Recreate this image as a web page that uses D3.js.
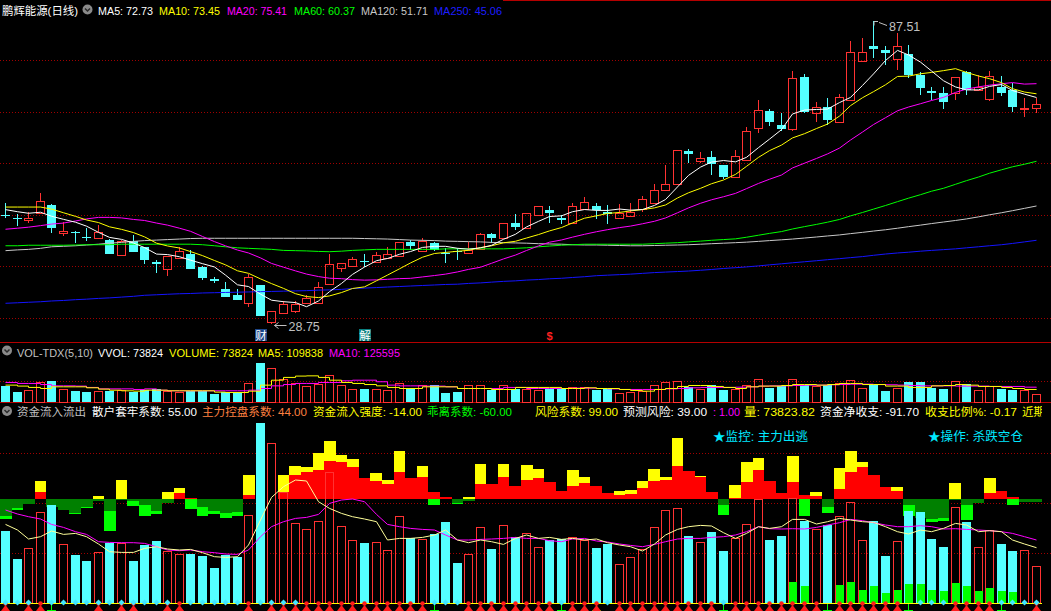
<!DOCTYPE html>
<html><head><meta charset="utf-8">
<script src="https://cdn.jsdelivr.net/npm/d3@7"></script>
<style>
html,body{margin:0;padding:0;background:#000;overflow:hidden}
svg{display:block}
text{font-family:"Liberation Sans",Arial,"Noto Sans CJK SC",sans-serif}
</style></head><body>
<svg id="c" width="1051" height="611"></svg>
<script>
// ---------------- data ----------------
const opens = [50.0,49.3,48.9,50.3,51.9,46.4,46.7,45.7,45.6,45.1,
42.3,44.9,43.8,40.85,39.4,41.7,42.4,39.8,37.56,35.7,
34.46,32.97,36.4,29.3,30.9,31.4,32.85,32.97,36.5,39.7,
40.1,41.1,40.8,41.7,42.0,44.7,43.05,44.5,42.6,42.9,
42.55,43.3,46.3,45.6,48.35,47.4,50.0,50.9,49.4,48.5,
51.1,51.7,50.6,49.3,49.8,51.1,52.2,54.9,55.9,62.4,
60.5,61.2,59.65,57.4,60.7,66.9,70.1,67.4,66.6,76.7,
69.8,70.8,67.9,72.25,79.9,82.7,81.9,80.2,81.2,77.1,
74.05,73.55,73.55,77.6,74.2,72.4,74.85,74.2,70.45,70.65];
const highs = [52.2,50.2,50.6,54.3,52.0,48.7,46.8,47.5,48.0,45.3,
45.2,46.1,43.8,41.2,42.0,43.8,43.2,40.0,38.0,37.0,
35.6,38.5,36.4,31.4,33.2,33.2,34.5,37.0,42.4,40.7,
41.9,42.4,42.85,43.7,44.7,45.2,45.5,44.8,43.5,43.5,
44.8,46.5,46.5,48.35,50.1,50.3,51.7,51.7,49.96,52.2,
53.5,52.2,51.9,52.1,52.2,53.6,55.97,59.65,62.6,62.7,
62.1,62.4,59.65,62.6,67.1,72.2,70.5,69.7,77.8,77.3,
71.9,72.7,73.5,83.6,84.2,87.51,82.7,85.2,82.9,77.75,
74.7,74.85,76.7,77.8,77.1,77.9,76.9,75.5,72.6,72.6];
const lows = [49.3,47.8,48.5,50.3,46.5,45.9,44.5,44.9,45.5,42.4,
42.3,42.8,40.5,38.8,38.1,41.6,39.5,37.4,36.8,34.1,
33.5,32.2,30.4,28.75,30.9,31.0,32.85,32.97,36.5,39.0,
39.8,39.8,40.6,41.7,42.0,43.2,43.05,42.9,40.6,41.2,
42.55,43.3,44.6,45.6,47.05,47.4,50.0,48.35,48.2,48.5,
51.1,49.1,48.2,49.3,49.8,50.6,52.2,54.9,55.9,60.1,
60.1,57.7,56.9,57.4,60.7,65.8,67.3,66.2,66.2,69.7,
68.0,67.4,67.9,72.25,79.9,80.35,79.0,78.1,76.5,73.2,
72.25,70.5,72.25,73.2,74.2,72.1,73.0,70.0,69.0,69.7];
const closes = [49.9,49.2,49.4,52.7,47.4,46.9,46.4,45.6,46.7,42.5,
45.0,42.85,41.2,40.4,42.0,42.9,39.55,37.8,37.2,34.1,
33.5,37.9,30.4,31.36,32.65,32.65,33.9,35.95,40.4,40.6,
41.4,41.0,42.15,42.5,44.7,44.05,45.0,43.2,42.5,42.8,
43.2,46.3,45.6,48.35,47.7,50.3,51.7,50.3,49.0,51.7,
52.4,50.9,50.2,50.4,50.6,53.0,54.9,55.9,62.6,61.8,
61.0,59.8,57.4,61.3,66.2,70.4,68.0,66.6,76.5,70.0,
70.96,68.4,72.9,81.5,81.6,82.1,81.4,82.7,77.1,74.65,
73.55,71.9,76.7,74.2,74.7,76.9,73.7,70.96,70.65,71.4];
const ma5 = [51.0,50.6,50.3,50.5,49.72,49.12,48.56,47.8,46.6,45.62,
45.24,44.53,43.65,42.39,42.29,41.87,41.21,40.53,39.89,38.31,
36.43,36.1,34.62,33.45,33.16,32.99,32.19,33.3,35.11,36.7,
38.45,39.87,41.11,41.53,42.35,42.88,43.68,43.89,43.89,43.51,
43.34,43.6,44.08,45.25,46.23,47.65,48.73,49.67,49.8,50.6,
51.02,50.86,50.84,51.12,50.9,51.02,51.82,52.96,55.4,57.64,
59.24,60.22,60.52,60.26,61.14,63.02,64.66,66.5,69.54,70.3,
70.41,70.49,71.75,72.75,75.07,77.3,79.9,81.86,80.98,79.59,
77.88,75.98,74.78,74.2,74.21,74.88,75.24,74.09,73.38,72.73];
const ma10 = [51.5,51.5,51.5,51.5,51.1,50.4,49.7,49.0,48.5,47.67,
47.18,46.55,45.73,44.5,43.96,43.56,42.87,42.09,41.14,40.3,
39.15,38.66,37.58,36.67,35.74,34.71,34.15,33.96,34.28,34.93,
35.72,36.03,37.21,38.32,39.53,40.67,41.78,42.5,42.71,42.93,
43.11,43.64,43.99,44.57,44.87,45.5,46.17,46.88,47.53,48.42,
49.34,49.8,50.26,50.46,50.75,51.02,51.34,51.9,53.26,54.27,
55.13,56.02,56.74,57.83,59.39,61.13,62.44,63.51,64.9,65.72,
66.72,67.58,69.13,71.15,72.69,73.86,75.2,76.81,76.87,77.33,
77.59,77.94,78.32,77.59,76.9,76.38,75.61,74.44,73.79,73.45];
const ma20 = [47.2,47.4,47.6,47.9,48.2,48.4,48.8,49.2,49.5,49.5,
49.4,49.1,48.9,48.4,48.0,47.4,46.8,45.8,44.8,43.99,
43.17,42.6,41.65,40.58,39.85,39.13,38.51,38.03,37.71,37.62,
37.44,37.34,37.39,37.5,37.63,37.69,37.96,38.23,38.5,38.93,
39.42,39.84,40.6,41.45,42.2,43.08,43.97,44.69,45.12,45.67,
46.22,46.72,47.12,47.52,47.81,48.26,48.75,49.39,50.39,51.34,
52.23,52.91,53.5,54.15,55.07,56.08,56.89,57.71,59.08,60.0,
60.92,61.8,62.93,64.49,66.04,67.49,68.82,70.16,70.88,71.53,
72.15,72.76,73.72,74.37,74.79,75.12,75.4,75.62,75.33,75.41];
const ma60 = [44.0,44.0,44.1,44.1,44.1,44.1,44.15,44.2,44.2,44.2,
44.3,44.3,44.3,44.3,44.3,44.3,44.3,44.2,44.0,43.8,
43.6,43.5,43.4,43.3,43.1,43.05,43.0,42.9,42.85,42.95,
43.1,43.2,43.3,43.3,43.3,43.3,43.3,43.3,43.4,43.4,
43.4,43.4,43.4,43.4,43.5,43.6,43.8,43.95,44.1,44.2,
44.3,44.3,44.3,44.3,44.3,44.3,44.4,44.5,44.6,44.75,
44.9,45.06,45.2,45.34,45.65,46.04,46.4,46.75,47.25,47.71,
48.14,48.57,49.1,49.79,50.45,51.1,51.8,52.55,53.22,53.9,
54.57,55.14,55.91,56.62,57.32,58.06,58.72,59.3,59.8,60.37];
const ma120 = [43.05,43.2,43.3,43.5,43.8,43.9,44.0,44.15,44.3,44.5,
44.65,44.85,45.0,45.1,45.2,45.3,45.4,45.45,45.45,45.45,
45.45,45.45,45.45,45.45,45.45,45.45,45.45,45.45,45.45,45.45,
45.45,45.4,45.35,45.3,45.2,45.1,45.05,45.0,44.9,44.85,
44.8,44.75,44.65,44.6,44.55,44.5,44.4,44.35,44.3,44.2,
44.15,44.15,44.1,44.05,44.0,44.0,44.05,44.1,44.15,44.2,
44.3,44.4,44.5,44.6,44.7,44.85,45.0,45.15,45.3,45.5,
45.7,45.9,46.1,46.35,46.6,46.85,47.1,47.4,47.7,48.0,
48.3,48.6,48.9,49.2,49.6,50.0,50.4,50.8,51.25,51.71];
const ma250 = [32.85,32.95,33.05,33.15,33.3,33.4,33.55,33.65,33.8,33.9,
34.05,34.2,34.4,34.5,34.6,34.7,34.75,34.85,34.9,34.95,
35.0,35.05,35.1,35.15,35.2,35.25,35.3,35.4,35.45,35.55,
35.7,35.8,35.9,36.0,36.1,36.2,36.3,36.4,36.5,36.55,
36.7,36.8,36.95,37.1,37.2,37.35,37.45,37.6,37.7,37.85,
38.0,38.2,38.3,38.4,38.5,38.65,38.8,38.9,39.0,39.1,
39.25,39.4,39.6,39.75,39.9,40.1,40.3,40.5,40.7,40.9,
41.1,41.3,41.5,41.7,41.9,42.15,42.4,42.6,42.75,42.95,
43.1,43.25,43.4,43.6,43.8,44.0,44.2,44.45,44.75,45.06];
const volume = [135000,86000,102000,169000,177000,108000,94000,86000,94000,97000,
102000,89000,102000,116000,97000,89000,94000,94000,69000,83000,
83000,158000,326000,290000,199000,158000,135000,152000,232000,144000,
116000,108000,116000,102000,158000,122000,144000,149000,75000,89000,
141000,141000,102000,144000,111000,116000,102000,116000,111000,125000,
125000,102000,111000,75000,83000,97000,141000,166000,177000,125000,
111000,141000,102000,116000,141000,194000,122000,135000,194000,141000,
135000,144000,158000,185000,122000,149000,94000,122000,169000,169000,
122000,113000,177000,152000,102000,138000,111000,102000,102000,73824];
const volMa5 = [144000,136000,125000,116000,130000,130000,130000,122000,111000,102000,
97000,94000,102000,102000,97000,97000,97000,97000,86000,83000,
83000,94000,144000,185000,208000,219000,221000,208000,185000,166000,
158000,149000,138000,125000,116000,116000,130000,130000,130000,116000,
116000,116000,108000,108000,125000,125000,125000,125000,116000,116000,
122000,116000,116000,108000,100000,94000,108000,116000,133000,141000,
141000,133000,125000,116000,130000,136000,136000,141000,149000,149000,
144000,149000,158000,158000,149000,149000,136000,136000,125000,125000,
138000,141000,149000,144000,133000,133000,125000,116000,108000,109838];
const volMa10 = [166000,158000,158000,149000,138000,138000,136000,125000,113000,113000,
113000,108000,113000,102000,97000,97000,97000,97000,97000,97000,
97000,102000,116000,138000,149000,158000,158000,166000,166000,180000,
185000,185000,172000,144000,138000,138000,136000,136000,130000,116000,
116000,116000,116000,125000,125000,116000,116000,116000,116000,119000,
119000,116000,113000,108000,108000,108000,108000,113000,116000,122000,
125000,125000,125000,127000,130000,136000,138000,138000,141000,144000,
144000,147000,149000,152000,152000,149000,147000,144000,141000,138000,
138000,138000,136000,136000,136000,133000,133000,133000,127000,125595];
// lower indicator panel
const lowerBars = [71.7,43.7,54.7,90.7,97.7,58.7,47.7,41.7,50.3,59.7,
59.3,41.7,57.7,61.7,51.7,48.7,48.7,46.7,34.7,47.7,
45.3,87.3,180,159.3,110.7,79.3,73.3,81.3,130.3,76.3,
62.3,59.7,60.3,52.3,86.3,64.3,63.7,68.3,80.7,39.7,
48.7,75.3,53.7,77.3,65.3,69.3,55.3,62.7,63.3,65.3,
62.7,54.7,58.7,38.3,45.3,53.7,75.3,92.7,94.3,66.7,
60.3,70.7,51.7,65,78.3,103.3,62.7,66.7,104.3,82,
73.7,77.3,86.3,100.3,62.7,82,46.7,61.3,91.7,90.7,
63.7,55.7,95.3,80.7,55.3,72.3,58.7,51.7,52.3,36.7];
const flowZero = 104;
const flowYellow = [0,0,0,18,0,0,0,0,3,0,
19,0,0,0,6.3,11,0,0,0,0,
0,24,0,0,23.3,33,32,46,58,44,
40,0,26,19,48,0,33,0,0,0,
2,35,0,35,0,34,30,0,0,29,
22,0,0,8,9,18,30,22,61,0,
23,0,0,14,37,41,0,0,43,0,
7,0,31,48,37,0,0,12,0,0,
0,0,16,0,0,21,0,0,0,0];
const flowRed = [0,0,0,7,0,0,0,0,0,0,
0,0,0,0,0,5.7,1,0,0,0,
0,4,0,0,7,24,26.3,29,38,37,
32,21,18,15,27,21,22,7,2,0,
0,15,15,22,13,19,21,17,8,13,
16,13,6,4,5,11,18,19,33,28,
22,7,0,1,17,29,18,6,17,4,
3,0,10,27,32,24,12,8,0,0,
0,0,0,0,0,6,8,2,0,0];
const flowDark = [-17.7,-9.3,-5,0,-8,-11,-14.3,-8.3,-2,-12.7,
-1,-2,-6,-12,-4,0,0,-8.3,-12,-14.3,
-13.3,0,0,0,0,0,0,0,0,0,
0,0,0,0,0,0,0,0,0,-4.3,
-2,0,0,0,0,0,0,0,0,0,
0,0,0,0,0,0,0,0,0,0,
0,0,-6,0,0,0,0,0,0,0,
0,-8,0,0,0,0,0,0,-6,-19,
-20,-19,-1,-6,-4,0,0,0,-3,-3];
const flowBright = [-20,-11.7,0,0,0,0,-15,-9,0,-32,
0,-7.7,-17,-15,0,0,-10,-17,-15,-19,
-17,0,0,0,0,0,0,0,0,0,
0,0,0,0,0,0,0,-6,0,-5,
0,0,0,0,0,0,0,0,0,0,
0,0,0,0,0,0,0,0,0,0,
0,0,-16,0,0,0,0,0,0,-17.7,
0,-14,0,0,0,0,0,0,-17.7,0,
-23,-22,0,-21,0,0,0,-6,0,0];
const bottomGreen = [0,0,0,0,0,0,0,0,0,0,
0,0,0,0,0,0,0,0,0,0,
0,0,0,0,0,0,0,0,0,0,
0,0,0,0,0,0,0,0,0,0,
0,0,0,0,0,0,0,0,0,0,
0,0,0,0,0,0,0,0,0,0,
0,0,0,0,0,0,0,0,20.7,16.7,
0,0,17.7,20.7,12.7,16.7,9.7,12.7,18.7,18.7,
12.7,11.7,19.7,16.7,11.7,14.7,11.7,10.7,0,0];
const retailLine = [78.3,72.7,63.7,66,71.7,68.3,69.3,66,58.7,51,
50.3,50.3,54.3,56,53.7,52.7,53.3,50,46,45.3,
46,57.7,82.7,105.3,116,122.7,121.7,101,94.3,89.3,
86,83.7,81,62.7,64.3,64.3,65.3,67.7,72.7,62.7,
60,62.7,61,58.3,64.3,67.7,64.3,65.3,63.3,64.3,
62.7,63.7,60,57.7,56,51.7,58.7,67.7,73.3,76,
77.3,76.7,70,64.3,69.3,76,74.3,76,83.3,83.3,
78.7,81,84.3,82.7,81,80.3,76,71,68.7,72.7,
71,74.3,79.3,77.7,71,72,71,62.7,58.7,55];
const controlLine = [92.7,88.7,86,83.7,78.3,75.3,71,68.3,61,60.3,
60,60,59.3,56,52.7,52,52.7,51,50,48.7,
48.3,52.7,66,76,81,84.3,85.3,88.3,99.3,102.7,
103.7,101,88.3,78.3,76,74.3,73.3,72.7,67.7,62.7,
62.7,63.3,63.7,64.3,65.3,64.3,64.3,62,61,63.7,
64.3,61.7,60.7,58.7,57.3,56,58.3,61,63.7,64.3,
64.3,65.3,66,67.7,71,76,74,73.7,74,73.7,
75.3,77.7,80,83.3,82,80,77.7,76,76,77,
76,73.7,74,73.3,72.7,72,71,69.3,66,62.7];
const diamondMarks = [0,1,2,4,5,6,7,8,9,10,11,12,13,14,16,17,18,19,20,22,23,24,25,37,38,39,48,52,62,79,80,81,86,87,88,89];
const arrowMarks = [0,2,3,8,10,11,14,15,21,23,24,25,26,27,28,29,30,31,32,33,34,35,36,40,41,42,43,44,45,46,47,49,50,51,53,54,55,56,57,58,59,60,61,63,64,65,66,67,68,69,70,72,73,74,75,76,77,82,83,84,85,89];
const greenMarks = [4,37,48,51,62,71,78,86];
const priceGrid = [30,40,50,60,70,80];
const volGrid = [181000];
const lowerGrid = [50,100,150];
const lowPoint = {i:23, v:28.75}, highPoint = {i:75, v:87.51};
const events = [{i:22, t:"财", bg:"#1c4688"},{i:31, t:"解", bg:"#0a8080"}];
const dollarAt = 47;

const header1 = [
 {t:"鹏辉能源(日线)", x:2, w:76, c:"#ffffff"},
 {t:"MA5: 72.73", x:98, w:55, c:"#ffffff"},
 {t:"MA10: 73.45", x:159, w:61, c:"#ffff00"},
 {t:"MA20: 75.41", x:227, w:60, c:"#ff00ff"},
 {t:"MA60: 60.37", x:294, w:61, c:"#00ff00"},
 {t:"MA120: 51.71", x:361, w:67, c:"#c8c8c8"},
 {t:"MA250: 45.06", x:434, w:68, c:"#1e1eff"}];
const header2 = [
 {t:"VOL-TDX(5,10)", x:17, w:76, c:"#c0c0c0"},
 {t:"VVOL: 73824", x:98, w:65, c:"#ffffff"},
 {t:"VOLUME: 73824", x:169, w:84, c:"#ffff00"},
 {t:"MA5: 109838", x:258, w:65, c:"#ffff00"},
 {t:"MA10: 125595", x:329, w:71, c:"#ff00ff"}];
const header3 = [
 {t:"资金流入流出", x:17, w:69, c:"#c0c0c0"},
 {t:"散户套牢系数: 55.00", x:92, w:105, c:"#ffffff"},
 {t:"主力控盘系数: 44.00", x:202, w:105, c:"#ff8040"},
 {t:"资金流入强度: -14.00", x:313, w:109, c:"#ffff00"},
 {t:"乖离系数: -60.00", x:427, w:85, c:"#00ff00"},
 {t:"风险系数: 99.00", x:535, w:83, c:"#ffff00"},
 {t:"预测风险: 39.00", x:623, w:84, c:"#ffffff"},
 {t:": 1.00", x:713, w:27, c:"#ff00ff"},
 {t:"量: 73823.82", x:744, w:71, c:"#ffff00"},
 {t:"资金净收支: -91.70", x:820, w:99, c:"#ffffff"},
 {t:"收支比例%: -0.17", x:925, w:92, c:"#ffff00"},
 {t:"近期", x:1022, w:23, c:"#ffff00"}];
const notes = [{t:"★监控: 主力出逃", x:713, w:95},{t:"★操作: 杀跌空仓", x:928, w:95}];

// ---------------- drawing ----------------
const UP = "#ff3232", DN = "#54ffff", GRID = "#a00000", SEP = "#b40000";
const svg = d3.select("#c");
svg.append("rect").attr("width",1051).attr("height",611).attr("fill","#000");
svg.append("defs").append("clipPath").attr("id","hclip").append("rect").attr("x",0).attr("y",400).attr("width",1042).attr("height",25);
const N = closes.length;
const x = d3.scaleBand().domain(d3.range(N)).range([0,1042]).paddingInner(0.2).paddingOuter(0.1);
const BW = 9;
const xl = i => Math.round(x(i));
const xm = i => xl(i) + 4.5;
const yP = d3.scaleLinear().domain([30,80]).range([318,60]);
const yV = d3.scaleLinear().domain([0,340000]).range([402.5,361.5]);
const yL = d3.scaleLinear().domain([0,180]).range([602.7,422.7]);

// separators
svg.append("line").attr("x1",503).attr("x2",1051).attr("y1",0.5).attr("y2",0.5).attr("stroke",SEP);
[342.5,402.5].forEach(y=>svg.append("line").attr("x1",0).attr("x2",1051).attr("y1",y).attr("y2",y).attr("stroke",SEP));

function grid(vals, sc){
  svg.append("g").selectAll("line").data(vals).join("line")
   .attr("x1",0).attr("x2",1051)
   .attr("y1",d=>Math.round(sc(d))+0.5).attr("y2",d=>Math.round(sc(d))+0.5)
   .attr("stroke",GRID).attr("stroke-dasharray","1 2");
}
grid(priceGrid,yP); grid(volGrid,yV); grid(lowerGrid,yL);

// candles
const gK = svg.append("g").attr("shape-rendering","crispEdges");
d3.range(N).forEach(i=>{
  const o=opens[i], c=closes[i];
  const up = c >= o;
  const L = xl(i), cx = L + 4.5;
  const yT = Math.round(yP(Math.max(o,c))), yB = Math.round(yP(Math.min(o,c)));
  const yH = Math.round(yP(highs[i])), yLo = Math.round(yP(lows[i]));
  if (up){
    if (yH < yT) gK.append("line").attr("x1",cx).attr("x2",cx).attr("y1",yH).attr("y2",yT).attr("stroke",UP);
    if (yLo > yB) gK.append("line").attr("x1",cx).attr("x2",cx).attr("y1",yB).attr("y2",yLo).attr("stroke",UP);
    if (yB - yT < 1) gK.append("line").attr("x1",L).attr("x2",L+BW).attr("y1",yT+0.5).attr("y2",yT+0.5).attr("stroke",UP);
    else gK.append("rect").attr("x",L+0.5).attr("y",yT+0.5).attr("width",BW-1).attr("height",yB-yT).attr("fill","none").attr("stroke",UP);
  } else {
    gK.append("line").attr("x1",cx).attr("x2",cx).attr("y1",yH).attr("y2",yLo).attr("stroke",DN);
    gK.append("rect").attr("x",L).attr("y",yT).attr("width",BW).attr("height",Math.max(1,yB-yT)).attr("fill",DN);
  }
});

// MA lines
const lineP = d3.line().x((d,i)=>xm(i)).y(d=>yP(d));
[[ma250,"#1414ff"],[ma120,"#c8c8c8"],[ma60,"#00ff00"],[ma20,"#ff00ff"],[ma10,"#ffff00"],[ma5,"#ffffff"]]
 .forEach(([arr,col])=>svg.append("path").attr("d",lineP(arr)).attr("fill","none").attr("stroke",col).attr("stroke-width",1));

// annotations: low / high
(function(){
  const ax = xm(lowPoint.i)+3, ay = Math.round(yP(lowPoint.v))+1.5;
  svg.append("path").attr("d",`M${ax},${ay} h12 M${ax},${ay} l4,-3 M${ax},${ay} l4,3`).attr("stroke","#c0c0c0").attr("fill","none");
  svg.append("text").attr("x",ax+14).attr("y",ay+5).attr("fill","#c0c0c0").attr("font-size",12.5).text(lowPoint.v.toFixed(2));
  const hx = xm(highPoint.i)+0.5, hy = Math.round(yP(highPoint.v))+0.5;
  svg.append("path").attr("d",`M${hx},${hy} v4 M${hx},${hy} h4 M${hx+5},${hy+1} l8,3`).attr("stroke","#c0c0c0").attr("fill","none");
  svg.append("text").attr("x",hx+15).attr("y",hy+9.5).attr("fill","#c0c0c0").attr("font-size",12.5).text(highPoint.v.toFixed(2));
})();
events.forEach(e=>{
  const L = xl(e.i)-1;
  svg.append("rect").attr("x",L).attr("y",329).attr("width",12).attr("height",12).attr("fill",e.bg);
  svg.append("text").attr("x",L+6).attr("y",339.5).attr("text-anchor","middle").attr("fill","#fff").attr("font-size",11.5).text(e.t);
});
svg.append("text").attr("x",xm(dollarAt)).attr("y",340).attr("text-anchor","middle").attr("fill","#ff2020").attr("font-size",11).attr("font-weight","bold").text("$");

// volume panel
const gV = svg.append("g").attr("shape-rendering","crispEdges");
d3.range(N).forEach(i=>{
  const up = closes[i] >= opens[i], L = xl(i), yT = Math.round(yV(volume[i]));
  if (up) gV.append("rect").attr("x",L+0.5).attr("y",yT+0.5).attr("width",BW-1).attr("height",402-yT).attr("fill","none").attr("stroke",UP);
  else gV.append("rect").attr("x",L).attr("y",yT).attr("width",BW).attr("height",402-yT).attr("fill",DN);
});
const lineV = d3.line().x((d,i)=>xm(i)).y(d=>yV(d)).curve(d3.curveStepAfter);
svg.append("path").attr("d",lineV(volMa10)).attr("fill","none").attr("stroke","#ff00ff");
svg.append("path").attr("d",lineV(volMa5)).attr("fill","none").attr("stroke","#ffff00");

// lower panel: flow bars
const gF = svg.append("g").attr("shape-rendering","crispEdges");
const step = x.step();
const fl = i => Math.round(x(i) - step*0.1);
const fw = i => Math.round(x(i) - step*0.1 + step) - fl(i);
function flow(arr,col){
  arr.forEach((v,i)=>{ if(!v) return;
    const y0 = Math.round(yL(flowZero)), y1 = Math.round(yL(flowZero+v));
    gF.append("rect").attr("x",fl(i)).attr("width",fw(i)).attr("y",Math.min(y0,y1)).attr("height",Math.abs(y1-y0)).attr("fill",col);
  });
}
flow(flowYellow,"#ffff00"); flow(flowRed,"#ff0000"); flow(flowBright,"#00ff00"); flow(flowDark,"#008000");

const base = Math.round(yL(0));
const gB = svg.append("g").attr("shape-rendering","crispEdges");
lowerBars.forEach((v,i)=>{
  const up = closes[i] >= opens[i], L = xl(i), yT = Math.round(yL(v));
  if (up) gB.append("rect").attr("x",L+0.5).attr("y",yT+0.5).attr("width",BW-1).attr("height",base-yT).attr("fill","none").attr("stroke",UP);
  else gB.append("rect").attr("x",L).attr("y",yT).attr("width",BW).attr("height",base-yT+1).attr("fill",DN);
});
bottomGreen.forEach((v,i)=>{ if(!v) return;
  const yT = Math.round(yL(v));
  gB.append("rect").attr("x",xl(i)+1).attr("y",yT).attr("width",BW-1).attr("height",base-yT+1).attr("fill","#00ff00");
});
const lineL = d3.line().x((d,i)=>xm(i)).y(d=>yL(d));
svg.append("path").attr("d",lineL(controlLine)).attr("fill","none").attr("stroke","#ff00ff");
svg.append("path").attr("d",lineL(retailLine)).attr("fill","none").attr("stroke","#ffff99");
svg.append("line").attr("x1",0).attr("x2",xl(N-1)+BW+1).attr("y1",base+0.5).attr("y2",base+0.5).attr("stroke","#ffff00");

// markers
const gM = svg.append("g");
greenMarks.forEach(i=>{ const cx=xm(i);
  gM.append("path").attr("d",`M${cx},${base+1} V610.5 M${cx-4.5},610.5 H${cx+4.5}`).attr("stroke","#00ff00").attr("fill","none").attr("shape-rendering","crispEdges");});
arrowMarks.forEach(i=>{ const cx=xm(i);
  gM.append("circle").attr("cx",cx).attr("cy",base+0.5).attr("r",2.2).attr("fill","#ff1a1a");
  gM.append("path").attr("d",`M${cx},${base+2} L${cx+4.5},611 L${cx-4.5},611Z`).attr("fill","#ff1a1a");});
diamondMarks.forEach(i=>{ const cx=xm(i), cy=base-0.5;
  gM.append("path").attr("d",`M${cx},${cy-3} L${cx+3},${cy} L${cx},${cy+3} L${cx-3},${cy}Z`).attr("fill","#40e8ff");});

// headers
function header(items,y,clip){
  items.forEach(d=>{
    const t = svg.append("text").attr("x",d.x).attr("y",y).attr("fill",d.c).attr("font-size",11.5)
      .attr("textLength",d.w).attr("lengthAdjust","spacingAndGlyphs").text(d.t);
    if (clip) t.attr("clip-path","url(#hclip)");
  });
}
header(header1,14.5); header(header2,356.5); header(header3,416,true);
function icon(cx,cy){
  svg.append("circle").attr("cx",cx).attr("cy",cy).attr("r",5).attr("fill","#8a8a8a");
  svg.append("path").attr("d",`M${cx-2.5},${cy-1} L${cx},${cy+1.5} L${cx+2.5},${cy-1}`).attr("stroke","#2a2a2a").attr("stroke-width",1.5).attr("fill","none");
}
icon(87.5,9.5); icon(7,350.5); icon(7,411);
notes.forEach(n=>svg.append("text").attr("x",n.x).attr("y",441).attr("fill","#00e8ff").attr("font-size",12.5)
  .attr("textLength",n.w).attr("lengthAdjust","spacingAndGlyphs").text(n.t));
</script>
</body></html>
